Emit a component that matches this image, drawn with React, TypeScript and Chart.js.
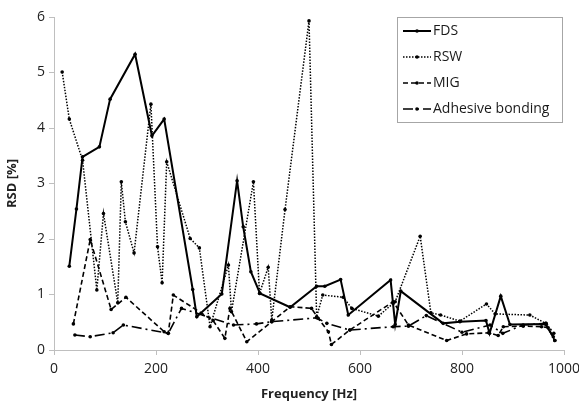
import React, { useEffect, useRef } from "react";
import { Chart, registerables } from "chart.js";

Chart.register(...registerables);

const fdsFreq = [30, 44, 56, 89, 110, 159, 192, 216, 272, 280, 329, 359, 371, 386, 404, 463, 515, 531, 562, 577, 660, 669, 680, 763, 796, 847, 854, 876, 894, 963, 979];
const fdsRsd = [1.51, 2.54, 3.48, 3.66, 4.52, 5.33, 3.86, 4.16, 1.09, 0.6, 1.01, 3.05, 2.22, 1.41, 1.02, 0.77, 1.15, 1.15, 1.27, 0.63, 1.26, 0.46, 1.06, 0.48, 0.51, 0.53, 0.3, 0.97, 0.46, 0.47, 0.24];

const rswFreq = [16, 30, 56, 84, 97, 125, 132, 140, 157, 190, 203, 212, 221, 267, 285, 306, 342, 348, 391, 403, 420, 427, 453, 500, 515, 527, 567, 584, 636, 665, 669, 718, 739, 758, 796, 848, 865, 933, 964, 982];
const rswRsd = [5.01, 4.16, 3.42, 1.08, 2.46, 0.85, 3.03, 2.31, 1.75, 4.43, 1.86, 1.21, 3.39, 2.01, 1.84, 0.42, 1.53, 0.69, 3.03, 1.02, 1.49, 0.54, 2.53, 5.93, 0.6, 0.99, 0.95, 0.75, 0.61, 0.84, 0.87, 2.05, 0.67, 0.63, 0.52, 0.83, 0.65, 0.63, 0.48, 0.17];

const migFreq = [38, 71, 112, 141, 216, 224, 234, 312, 335, 345, 378, 427, 463, 505, 518, 538, 544, 580, 665, 695, 770, 809, 852, 871, 881, 920, 956, 969, 982];
const migRsd = [0.47, 1.99, 0.73, 0.95, 0.33, 0.3, 0.99, 0.53, 0.21, 0.75, 0.15, 0.51, 0.78, 0.75, 0.57, 0.33, 0.1, 0.36, 0.87, 0.45, 0.17, 0.29, 0.31, 0.26, 0.42, 0.43, 0.42, 0.4, 0.17];

const adhFreq = [41, 71, 116, 136, 224, 250, 352, 397, 427, 515, 535, 580, 665, 695, 730, 800, 855, 880, 920, 965, 980];
const adhRsd = [0.27, 0.24, 0.31, 0.45, 0.3, 0.75, 0.45, 0.47, 0.51, 0.58, 0.48, 0.36, 0.42, 0.43, 0.62, 0.32, 0.45, 0.3, 0.45, 0.48, 0.3];

const seriesNames = ["FDS", "RSW", "MIG", "Adhesive bonding"];
const xTicks = [0, 200, 400, 600, 800, 1000];
const yTicks = [0, 1, 2, 3, 4, 5, 6];

const FONT = "'Open Sans', 'DejaVu Sans', sans-serif";

const toPts = (xs: number[], ys: number[]) => xs.map((x, i) => ({ x, y: ys[i] }));

const legendPlugin = {
  id: "boxLegend",
  afterDraw(chart: any) {
    const ctx = chart.ctx;
    const bx = 397, by = 17, bw = 165, bh = 105;
    ctx.save();
    ctx.strokeStyle = "#a6a6a6";
    ctx.lineWidth = 1;
    ctx.setLineDash([]);
    ctx.fillStyle = "#ffffff";
    ctx.fillRect(bx, by, bw, bh);
    ctx.strokeRect(bx + 0.5, by + 0.5, bw, bh);
    const rows = [31, 57, 83, 109];
    chart.data.datasets.forEach((ds: any, i: number) => {
      const y = rows[i];
      ctx.strokeStyle = "#000";
      ctx.lineWidth = ds.borderWidth;
      ctx.setLineDash(ds.borderDash || []);
      ctx.beginPath();
      ctx.moveTo(403, y);
      ctx.lineTo(431, y);
      ctx.stroke();
      ctx.setLineDash([]);
      ctx.fillStyle = "#000";
      ctx.beginPath();
      ctx.arc(417, y, 1.8, 0, Math.PI * 2);
      ctx.fill();
      ctx.fillStyle = "#1a1a1a";
      ctx.font = `14px ${FONT}`;
      ctx.textBaseline = "middle";
      ctx.textAlign = "left";
      ctx.fillText(ds.label, 433, y);
    });
    ctx.restore();
  },
};

export default function App() {
  const ref = useRef<HTMLCanvasElement | null>(null);
  useEffect(() => {
    document.body.style.margin = "0";
    const canvas = ref.current!;
    const common = {
      borderColor: "#000",
      backgroundColor: "#000",
      pointBackgroundColor: "#000",
      pointBorderColor: "#000",
      pointRadius: 1.8,
      pointBorderWidth: 0,
      tension: 0,
      fill: false,
    };
    const chart = new Chart(canvas, {
      type: "line",
      data: {
        datasets: [
          { ...common, label: seriesNames[0], data: toPts(fdsFreq, fdsRsd), borderWidth: 2 },
          { ...common, label: seriesNames[1], data: toPts(rswFreq, rswRsd), borderWidth: 1.5, borderDash: [1.5, 1.5] },
          { ...common, label: seriesNames[2], data: toPts(migFreq, migRsd), borderWidth: 1.6, borderDash: [5, 3] },
          { ...common, label: seriesNames[3], data: toPts(adhFreq, adhRsd), borderWidth: 1.6, borderDash: [10, 4, 2, 4] },
        ],
      },
      options: {
        animation: false,
        responsive: false,
        layout: { padding: { left: 0, top: 17, right: 15, bottom: 0 } },
        plugins: { legend: { display: false }, tooltip: { enabled: false } },
        scales: {
          x: {
            type: "linear",
            min: 0,
            max: 1000,
            afterBuildTicks: (s: any) => { s.ticks = xTicks.map((v) => ({ value: v })); },
            afterFit: (s: any) => { s.height = 56; s.paddingRight = 0; s.paddingLeft = 0; },
            border: { color: "#bfbfbf", width: 1 },
            grid: { drawOnChartArea: false, drawTicks: true, tickLength: 5, color: "#bfbfbf" },
            ticks: { color: "#222", font: { family: FONT, size: 14 }, padding: 6, maxRotation: 0, callback: (v: any) => String(v) },
            title: { display: true, text: "Frequency [Hz]", color: "#222", font: { family: FONT, size: 13, weight: "bold" }, padding: { top: 0, bottom: 4 } },
          },
          y: {
            type: "linear",
            min: 0,
            max: 6,
            afterBuildTicks: (s: any) => { s.ticks = yTicks.map((v) => ({ value: v })); },
            afterFit: (s: any) => { s.width = 54; s.paddingTop = 0; s.paddingBottom = 0; },
            border: { color: "#bfbfbf", width: 1 },
            grid: { drawOnChartArea: false, drawTicks: true, tickLength: 5, color: "#bfbfbf" },
            ticks: { color: "#222", font: { family: FONT, size: 14 }, padding: 4, callback: (v: any) => String(v) },
            title: { display: true, text: "RSD [%]", color: "#222", font: { family: FONT, size: 13, weight: "bold" }, padding: { top: 4, bottom: 0 } },
          },
        },
      },
      plugins: [legendPlugin],
    } as any);
    return () => chart.destroy();
  }, []);
  return (
    <div style={{ position: "absolute", left: 0, top: 0, width: 579, height: 406, background: "#fff" }}>
      <canvas ref={ref} width={579} height={406} style={{ width: 579, height: 406 }} />
    </div>
  );
}
